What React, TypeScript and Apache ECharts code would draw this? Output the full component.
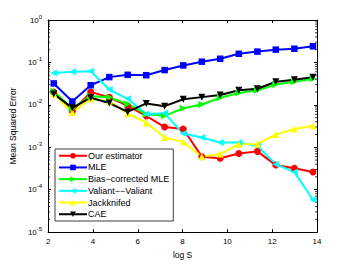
import React, { useEffect, useRef } from "react";
import * as echarts from "echarts";

const logS = [2.25, 3.08, 3.9, 4.73, 5.55, 6.38, 7.2, 8.03, 8.86, 9.68, 10.51, 11.34, 12.16, 12.99, 13.82];

const ourEstimator = [0.02, 0.0071, 0.02, 0.015, 0.0095, 0.0055, 0.003, 0.0027, 0.0006, 0.00055, 0.00071, 0.0008, 0.00038, 0.00032, 0.00026];
const mle = [0.032, 0.012, 0.029, 0.045, 0.051, 0.05, 0.066, 0.085, 0.104, 0.122, 0.16, 0.18, 0.2, 0.21, 0.24];
const biasCorrected = [0.021, 0.0082, 0.016, 0.015, 0.0105, 0.006, 0.0055, 0.0083, 0.0102, 0.0147, 0.019, 0.022, 0.03, 0.035, 0.041];
const valiant = [0.056, 0.06, 0.062, 0.023, 0.0139, 0.0061, 0.0063, 0.0021, 0.0017, 0.0013, 0.0013, 0.00107, 0.0004, 0.00026, 0.000058];
const jackknifed = [0.018, 0.0066, 0.014, 0.0122, 0.0062, 0.0038, 0.0017, 0.00134, 0.0006, 0.00069, 0.00118, 0.0012, 0.002, 0.0027, 0.0032];
const cae = [0.018, 0.0085, 0.0147, 0.011, 0.0068, 0.0108, 0.0093, 0.0135, 0.0152, 0.017, 0.022, 0.024, 0.035, 0.039, 0.045];

const seriesNames = ["Our estimator", "MLE", "Bias\u2212corrected MLE", "Valiant\u2212\u2212Valiant", "Jackknifed", "CAE"];
const xMin = 2;
const xMax = 14;
const yMin = 1e-5;
const yMax = 1;
const minorTickValues: number[] = [];
for (let e = -5; e < 0; e++) {
  for (let m = 2; m <= 9; m++) minorTickValues.push(m * Math.pow(10, e));
}

const FONT = "Liberation Sans, Arial, sans-serif";

export default function App() {
  const ref = useRef<HTMLDivElement>(null);
  useEffect(() => {
    if (!ref.current) return;
    const chart = echarts.init(ref.current, undefined, { renderer: "svg" });
    const mk = (name: string, data: number[], color: string, symbol: string, size: number) => ({
      name,
      type: "line",
      xAxisIndex: 0,
      yAxisIndex: 0,
      data: logS.map((x, i) => [x, data[i]]),
      symbol,
      symbolSize: size,
      showAllSymbol: true,
      lineStyle: { color, width: 2 },
      itemStyle: { color, borderWidth: 0 },
      emphasis: { disabled: true },
    });
    const labelFmt = (v: number) => {
      const e = Math.round(Math.log10(v));
      return `{b|10}{s|${e === 0 ? "0" : "-" + Math.abs(e)}}`;
    };
    chart.setOption({
      animation: false,
      textStyle: { fontFamily: FONT },
      grid: { left: 46, right: 33, top: 20, bottom: 30.5, containLabel: false },
      legend: {
        data: seriesNames,
        left: 55,
        top: 149,
        orient: "vertical",
        backgroundColor: "#fff",
        borderColor: "#404040",
        borderWidth: 1,
        borderRadius: 0,
        padding: [2, 4, 2, 3],
        itemWidth: 28,
        itemHeight: 7,
        itemGap: 2.2,
        textStyle: { fontSize: 9, lineHeight: 9.5, fontFamily: FONT, color: "#000", padding: [0, 0, 0, -4] },
      },
      xAxis: [
        {
          type: "value",
          min: xMin,
          max: xMax,
          interval: 2,
          name: "log S",
          nameLocation: "middle",
          nameGap: 16,
          nameTextStyle: { fontSize: 8.5, color: "#000", fontFamily: FONT },
          axisLine: { show: true, onZero: false, lineStyle: { color: "#000", width: 1 } },
          axisTick: { show: true, inside: true, length: 3, lineStyle: { color: "#000" } },
          axisLabel: { fontSize: 8, color: "#000", margin: 5, fontFamily: FONT },
          splitLine: { show: false },
        },
        {
          type: "value",
          position: "top",
          min: xMin,
          max: xMax,
          interval: 2,
          axisLine: { show: true, onZero: false, lineStyle: { color: "#000", width: 1 } },
          axisTick: { show: true, inside: true, length: 3, lineStyle: { color: "#000" } },
          axisLabel: { show: false },
          splitLine: { show: false },
        },
      ],
      yAxis: [
        {
          type: "log",
          logBase: 10,
          min: yMin,
          max: yMax,
          name: "Mean Squared Error",
          nameLocation: "middle",
          nameGap: 20,
          nameTextStyle: { fontSize: 8.5, color: "#000", fontFamily: FONT },
          axisLine: { show: true, onZero: false, lineStyle: { color: "#000", width: 1 } },
          axisTick: { show: true, inside: true, length: 3, lineStyle: { color: "#000" } },
          axisLabel: {
            formatter: labelFmt,
            margin: 6,
            color: "#000",
            rich: {
              b: { fontSize: 8, fontFamily: FONT, color: "#000" },
              s: { fontSize: 6, fontFamily: FONT, color: "#000", padding: [0, 0, 7, 0] },
            },
          },
          splitLine: { show: false },
        },
        {
          type: "log",
          logBase: 10,
          min: yMin,
          max: yMax,
          position: "right",
          axisLine: { show: true, onZero: false, lineStyle: { color: "#000", width: 1 } },
          axisTick: { show: true, inside: true, length: 3, lineStyle: { color: "#000" } },
          axisLabel: { show: false },
          splitLine: { show: false },
        },
      ],
      series: [
        {
          type: "custom",
          name: "minorTicks",
          xAxisIndex: 0,
          yAxisIndex: 0,
          silent: true,
          clip: false,
          data: minorTickValues.map((v) => [xMin, v]),
          renderItem: (params: any, api: any) => {
            const v = api.value(1);
            const l = api.coord([xMin, v]);
            const r = api.coord([xMax, v]);
            return {
              type: "group",
              children: [
                { type: "line", shape: { x1: l[0], y1: l[1], x2: l[0] + 2, y2: l[1] }, style: { stroke: "#000", lineWidth: 0.8 } },
                { type: "line", shape: { x1: r[0], y1: r[1], x2: r[0] - 2, y2: r[1] }, style: { stroke: "#000", lineWidth: 0.8 } },
              ],
            };
          },
        },
        mk(seriesNames[0], ourEstimator, "#ff0000", "circle", 7),
        mk(seriesNames[1], mle, "#0000ff", "rect", 6.5),
        mk(seriesNames[2], biasCorrected, "#00ff00", "path://M0,0L10,5L0,10Z", 7),
        mk(seriesNames[3], valiant, "#00ffff", "path://M10,0L0,5L10,10Z", 7),
        mk(seriesNames[4], jackknifed, "#ffff00", "triangle", 7),
        mk(seriesNames[5], cae, "#000000", "path://M0,0L10,0L5,10Z", 7),
      ],
    });
    return () => chart.dispose();
  }, []);
  return (
    <div
      ref={ref}
      style={{ position: "absolute", left: 0, top: 0, width: 350, height: 264, background: "#fff" }}
    />
  );
}
